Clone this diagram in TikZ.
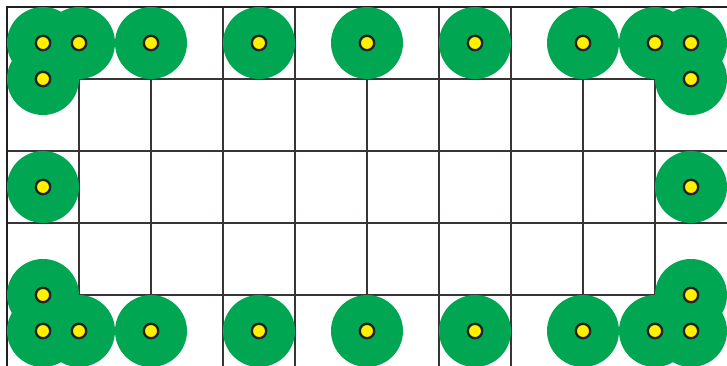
\documentclass[tikz,border=0pt]{standalone}
\usepackage{tikz}
\usetikzlibrary{positioning}
\definecolor{rangegreen}{HTML}{00A651}
\definecolor{sensoryellow}{HTML}{FFF200}
\definecolor{edgedark}{HTML}{231F20}
\tikzset{
  cellline/.style={draw=edgedark!90, line width=0.45pt},
  outerline/.style={draw=edgedark, line width=1pt},
  coverage/.style={circle, fill=rangegreen, minimum size=1cm, inner sep=0pt},
  sensor/.style={circle, draw=edgedark, fill=sensoryellow, line width=0.9pt,
    minimum size=0.2cm, inner sep=0pt}
}

\begin{document}
\begin{tikzpicture}[x=1cm, y=1cm]
  \useasboundingbox (-7/72,7/72) rectangle (10,-359/72);
  \fill[white] (-7/72,7/72) rectangle (10,-359/72);

  % field grid
  \foreach \gx in {1,...,9}
    \draw[cellline] (\gx,0) -- (\gx,-5.2);
  \foreach \gy in {1,...,4}
    \draw[cellline] (0,-\gy) -- (10.2,-\gy);
  \draw[outerline] (0,-5.2) -- (0,0) -- (10.2,0);

  % coverage discs, then the sensors on top
  \foreach \p [count=\i] in {
      {0.5,-0.5},{1,-0.5},{2,-0.5},{3.5,-0.5},{5,-0.5},{6.5,-0.5},{8,-0.5},{9,-0.5},{9.5,-0.5},
      {0.5,-1},{9.5,-1},{0.5,-2.5},{9.5,-2.5},{0.5,-4},{9.5,-4},
      {0.5,-4.5},{1,-4.5},{2,-4.5},{3.5,-4.5},{5,-4.5},{6.5,-4.5},{8,-4.5},{9,-4.5},{9.5,-4.5}}
    \node[coverage] (r\i) at (\p) {};
  \foreach \i in {1,...,24}
    \node[sensor] (s\i) at (r\i) {};
\end{tikzpicture}
\end{document}
